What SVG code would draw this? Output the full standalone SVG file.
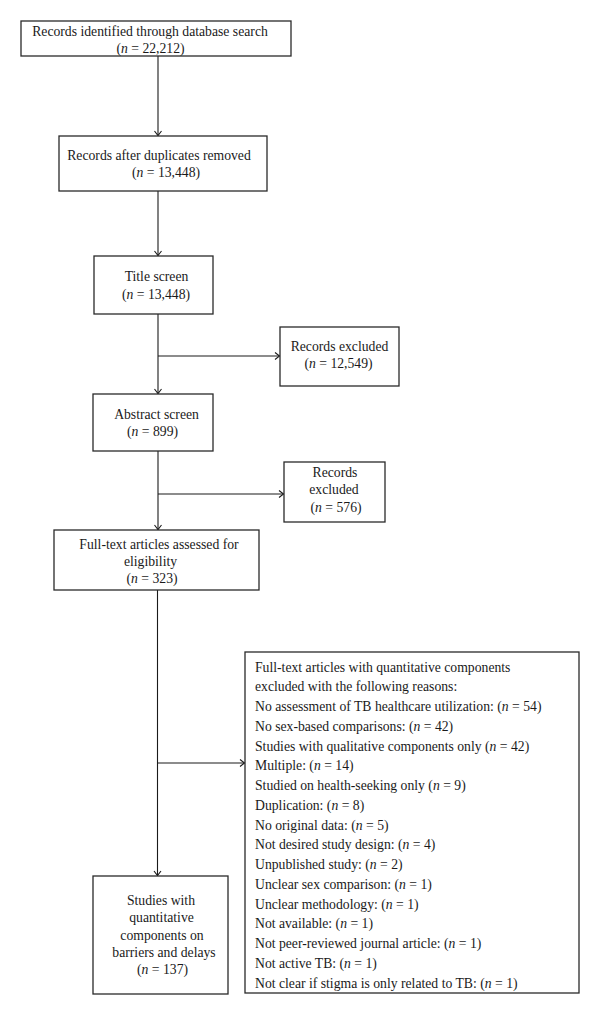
<svg xmlns="http://www.w3.org/2000/svg" width="600" height="1015" viewBox="0 0 600 1015">
<style>
.box{fill:#fff;stroke:#2a2a2a;stroke-width:1.3}
text{font-family:"Liberation Serif","Times New Roman",serif;font-size:13.7px;fill:#1a1a1a}
.c{text-anchor:middle}
.i{font-style:italic}
.con{fill:none;stroke:#1a1a1a;stroke-width:1.1}
</style>
<defs>
<marker id="ah" markerUnits="userSpaceOnUse" markerWidth="12" markerHeight="12" refX="0" refY="0" viewBox="-6 -6 12 12" orient="auto" overflow="visible">
<path d="M-4.5,-3.5 L0,0 L-4.5,3.5" fill="none" stroke="#1a1a1a" stroke-width="1.1"/>
</marker>
</defs>
<rect width="600" height="1015" fill="#fff"/>
<g id="connectors">
<line class="con" x1="158" y1="56" x2="158" y2="135.5" marker-end="url(#ah)"/>
<line class="con" x1="158" y1="191" x2="158" y2="255.5" marker-end="url(#ah)"/>
<line class="con" x1="158" y1="314" x2="158" y2="393.5" marker-end="url(#ah)"/>
<line class="con" x1="158" y1="356" x2="279.5" y2="356" marker-end="url(#ah)"/>
<line class="con" x1="158" y1="451" x2="158" y2="529.5" marker-end="url(#ah)"/>
<line class="con" x1="158" y1="494" x2="283.5" y2="494" marker-end="url(#ah)"/>
<line class="con" x1="157.5" y1="590" x2="157.5" y2="875.5" marker-end="url(#ah)"/>
<line class="con" x1="157.5" y1="763" x2="244.5" y2="763" marker-end="url(#ah)"/>
</g>
<g id="n1">
<rect class="box" x="21" y="21" width="270" height="35"/>
<text class="c" x="150" y="36">Records identified through database search</text>
<text class="c" x="150.5" y="52.5">(<tspan class="i">n</tspan> = 22,212)</text>
</g>
<g id="n2">
<rect class="box" x="59" y="136" width="208" height="55"/>
<text class="c" x="159" y="159.5">Records after duplicates removed</text>
<text class="c" x="166" y="177">(<tspan class="i">n</tspan> = 13,448)</text>
</g>
<g id="n3">
<rect class="box" x="94" y="256" width="119" height="58"/>
<text class="c" x="156.5" y="281">Title screen</text>
<text class="c" x="156" y="299">(<tspan class="i">n</tspan> = 13,448)</text>
</g>
<g id="n4">
<rect class="box" x="280" y="327" width="119" height="59"/>
<text class="c" x="339.5" y="351">Records excluded</text>
<text class="c" x="338.5" y="368">(<tspan class="i">n</tspan> = 12,549)</text>
</g>
<g id="n5">
<rect class="box" x="93" y="394" width="120" height="57"/>
<text class="c" x="156.5" y="419">Abstract screen</text>
<text class="c" x="152.5" y="436">(<tspan class="i">n</tspan> = 899)</text>
</g>
<g id="n6">
<rect class="box" x="284" y="462" width="101" height="60"/>
<text class="c" x="335" y="477">Records</text>
<text class="c" x="334" y="494">excluded</text>
<text class="c" x="336" y="512">(<tspan class="i">n</tspan> = 576)</text>
</g>
<g id="n7">
<rect class="box" x="54" y="530" width="205" height="60"/>
<text class="c" x="159" y="548.5">Full-text articles assessed for</text>
<text class="c" x="150.5" y="566">eligibility</text>
<text class="c" x="152" y="583">(<tspan class="i">n</tspan> = 323)</text>
</g>
<g id="n8">
<rect class="box" x="245" y="652" width="334" height="341"/>
<text x="255" y="671.5">Full-text articles with quantitative components</text>
<text x="255" y="691.25">excluded with the following reasons:</text>
<text x="255" y="711">No assessment of TB healthcare utilization: (<tspan class="i">n</tspan> = 54)</text>
<text x="255" y="730.75">No sex-based comparisons: (<tspan class="i">n</tspan> = 42)</text>
<text x="255" y="750.5">Studies with qualitative components only (<tspan class="i">n</tspan> = 42)</text>
<text x="255" y="770.25">Multiple: (<tspan class="i">n</tspan> = 14)</text>
<text x="255" y="790">Studied on health-seeking only (<tspan class="i">n</tspan> = 9)</text>
<text x="255" y="809.75">Duplication: (<tspan class="i">n</tspan> = 8)</text>
<text x="255" y="829.5">No original data: (<tspan class="i">n</tspan> = 5)</text>
<text x="255" y="849.25">Not desired study design: (<tspan class="i">n</tspan> = 4)</text>
<text x="255" y="869">Unpublished study: (<tspan class="i">n</tspan> = 2)</text>
<text x="255" y="888.75">Unclear sex comparison: (<tspan class="i">n</tspan> = 1)</text>
<text x="255" y="908.5">Unclear methodology: (<tspan class="i">n</tspan> = 1)</text>
<text x="255" y="928.25">Not available: (<tspan class="i">n</tspan> = 1)</text>
<text x="255" y="948">Not peer-reviewed journal article: (<tspan class="i">n</tspan> = 1)</text>
<text x="255" y="967.75">Not active TB: (<tspan class="i">n</tspan> = 1)</text>
<text x="255" y="987.5">Not clear if stigma is only related to TB: (<tspan class="i">n</tspan> = 1)</text>
</g>
<g id="n9">
<rect class="box" x="93" y="876" width="135" height="118"/>
<text class="c" x="161" y="904.5">Studies with</text>
<text class="c" x="161.5" y="921.5">quantitative</text>
<text class="c" x="162" y="939.5">components on</text>
<text class="c" x="164" y="957">barriers and delays</text>
<text class="c" x="162.5" y="974">(<tspan class="i">n</tspan> = 137)</text>
</g>
</svg>
